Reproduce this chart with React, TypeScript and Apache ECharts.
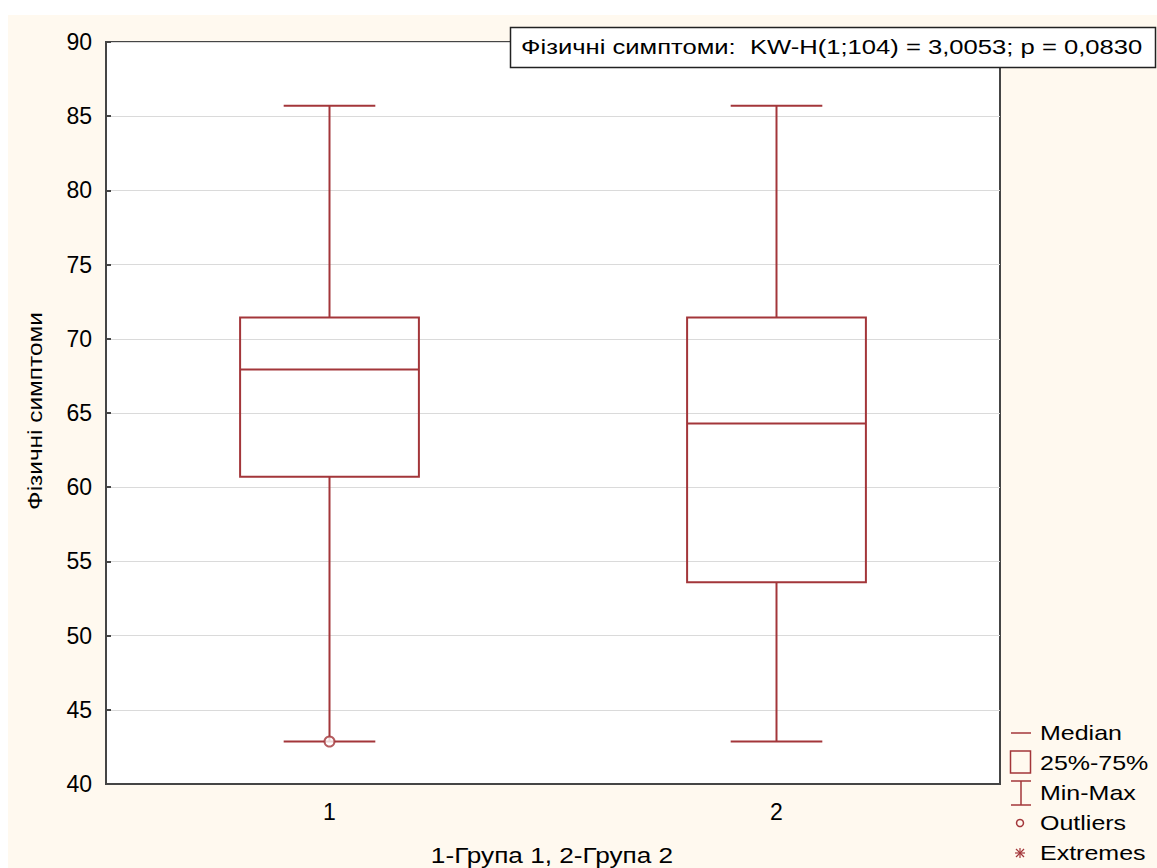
import { useEffect, useRef } from "react";
import * as echarts from "echarts";

const categories = ["1", "2"];
const minValues = [42.86, 42.86];
const q1Values = [60.71, 53.6];
const medianValues = [67.93, 64.29];
const q3Values = [71.43, 71.43];
const maxValues = [85.71, 85.71];
const outlierPoints: [number, number][] = [[0, 42.86]];
const yMin = 40;
const yMax = 90;
const yStep = 5;
const titleText = "Фізичні симптоми:  KW-H(1;104) = 3,0053; p = 0,0830";
const yAxisName = "Фізичні симптоми";
const xAxisName = "1-Група 1, 2-Група 2";
const legendLabels = ["Median", "25%-75%", "Min-Max", "Outliers", "Extremes"];

const RED = "#A3363A";
const FONT = "'Liberation Sans', Arial, sans-serif";

export default function App() {
  const ref = useRef<HTMLDivElement>(null);
  useEffect(() => {
    if (!ref.current) return;
    const chart = echarts.init(ref.current, undefined, { renderer: "svg" });
    const boxData = categories.map((_, i) => [
      i,
      minValues[i],
      q1Values[i],
      medianValues[i],
      q3Values[i],
      maxValues[i],
    ]);
    const lx = 1010;
    const tx = 1040;
    const ly = [733, 763, 793, 823, 853];
    const option: any = {
      animation: false,
      backgroundColor: "#ffffff",
      textStyle: { fontFamily: FONT },
      grid: {
        left: 106,
        top: 42,
        width: 894,
        height: 742,
        containLabel: false,
        outerBoundsMode: "none",
        show: true,
        backgroundColor: "#ffffff",
        borderColor: "#454545",
        borderWidth: 2,
      },
      xAxis: {
        type: "category",
        data: categories,
        boundaryGap: true,
        axisLine: { lineStyle: { color: "#454545", width: 2 } },
        axisTick: { inside: true, alignWithLabel: true, length: 5, lineStyle: { color: "#454545", width: 2 } },
        axisLabel: { color: "#000", fontSize: 23, margin: 16, fontFamily: FONT },
        splitLine: { show: false },
      },
      yAxis: {
        type: "value",
        min: yMin,
        max: yMax,
        interval: yStep,
        axisLine: { show: true, lineStyle: { color: "#454545", width: 2 } },
        axisTick: { show: true, inside: true, length: 5, lineStyle: { color: "#454545", width: 2 } },
        axisLabel: { color: "#000", fontSize: 23, margin: 14, fontFamily: FONT },
        splitLine: { show: true, lineStyle: { color: "#dadada", width: 1 } },
      },
      series: [
        {
          type: "custom",
          data: boxData,
          encode: { x: 0, y: [1, 2, 3, 4, 5] },
          renderItem: (params: any, api: any) => {
            const idx = api.value(0);
            const band = api.size([1, 0])[0];
            const pMin = api.coord([idx, api.value(1)]);
            const pQ1 = api.coord([idx, api.value(2)]);
            const pMed = api.coord([idx, api.value(3)]);
            const pQ3 = api.coord([idx, api.value(4)]);
            const pMax = api.coord([idx, api.value(5)]);
            const cx = pMed[0];
            const bw = band * 0.4;
            const cw = band * 0.205;
            const style = { stroke: RED, lineWidth: 2, fill: null };
            return {
              type: "group",
              children: [
                { type: "line", shape: { x1: cx, y1: pMax[1], x2: cx, y2: pQ3[1] }, style },
                { type: "line", shape: { x1: cx, y1: pQ1[1], x2: cx, y2: pMin[1] }, style },
                { type: "line", shape: { x1: cx - cw / 2, y1: pMax[1], x2: cx + cw / 2, y2: pMax[1] }, style },
                { type: "line", shape: { x1: cx - cw / 2, y1: pMin[1], x2: cx + cw / 2, y2: pMin[1] }, style },
                {
                  type: "rect",
                  shape: { x: cx - bw / 2, y: pQ3[1], width: bw, height: pQ1[1] - pQ3[1] },
                  style: { stroke: RED, lineWidth: 2, fill: "rgba(0,0,0,0)" },
                },
                { type: "line", shape: { x1: cx - bw / 2, y1: pMed[1], x2: cx + bw / 2, y2: pMed[1] }, style },
              ],
            };
          },
          z: 3,
        },
        {
          type: "scatter",
          data: outlierPoints,
          symbol: "emptyCircle",
          symbolSize: 10,
          itemStyle: { color: RED, borderColor: RED, borderWidth: 1.5 },
          z: 4,
        },
      ],
      graphic: [
        {
          type: "rect",
          z: -10,
          silent: true,
          shape: { x: 8, y: 15, width: 1157, height: 868 },
          style: { fill: "#FFF9EF" },
        },
        {
          type: "rect",
          z: 10,
          shape: { x: 510.5, y: 27.5, width: 645, height: 40 },
          style: { fill: "#ffffff", stroke: "#222", lineWidth: 1.5 },
        },
        {
          type: "text",
          z: 11,
          x: 521,
          y: 47,
          scaleX: 1.22,
          style: { text: titleText, fill: "#000", fontSize: 21, fontFamily: FONT, verticalAlign: "middle" },
        },
        {
          type: "text",
          z: 11,
          x: 35,
          y: 411,
          rotation: Math.PI / 2,
          scaleX: 1.22,
          style: { text: yAxisName, fill: "#000", fontSize: 20, fontFamily: FONT, align: "center", verticalAlign: "middle" },
        },
        {
          type: "text",
          z: 11,
          x: 552,
          y: 855,
          scaleX: 1.19,
          style: { text: xAxisName, fill: "#000", fontSize: 22, fontFamily: FONT, align: "center", verticalAlign: "middle" },
        },
        // legend icons
        { type: "line", z: 10, shape: { x1: lx + 1, y1: ly[0], x2: lx + 21, y2: ly[0] }, style: { stroke: RED, lineWidth: 1.5 } },
        { type: "rect", z: 10, shape: { x: lx + 0.5, y: ly[1] - 12, width: 20, height: 22 }, style: { stroke: RED, lineWidth: 1.5, fill: "none" } },
        { type: "line", z: 10, shape: { x1: lx + 1, y1: ly[2] - 12, x2: lx + 21, y2: ly[2] - 12 }, style: { stroke: RED, lineWidth: 1.5 } },
        { type: "line", z: 10, shape: { x1: lx + 11, y1: ly[2] - 12, x2: lx + 11, y2: ly[2] + 12 }, style: { stroke: RED, lineWidth: 1.5 } },
        { type: "line", z: 10, shape: { x1: lx + 1, y1: ly[2] + 12, x2: lx + 21, y2: ly[2] + 12 }, style: { stroke: RED, lineWidth: 1.5 } },
        { type: "circle", z: 10, shape: { cx: lx + 10, cy: ly[3], r: 3.5 }, style: { stroke: RED, lineWidth: 1.5, fill: "none" } },
        { type: "line", z: 10, shape: { x1: lx + 5, y1: ly[4], x2: lx + 15, y2: ly[4] }, style: { stroke: RED, lineWidth: 1.2 } },
        { type: "line", z: 10, shape: { x1: lx + 10, y1: ly[4] - 5, x2: lx + 10, y2: ly[4] + 5 }, style: { stroke: RED, lineWidth: 1.2 } },
        { type: "line", z: 10, shape: { x1: lx + 6, y1: ly[4] - 4, x2: lx + 14, y2: ly[4] + 4 }, style: { stroke: RED, lineWidth: 1.2 } },
        { type: "line", z: 10, shape: { x1: lx + 6, y1: ly[4] + 4, x2: lx + 14, y2: ly[4] - 4 }, style: { stroke: RED, lineWidth: 1.2 } },
        ...legendLabels.map((t, i) => ({
          type: "text",
          z: 10,
          x: tx,
          y: ly[i],
          scaleX: 1.19,
          style: { text: t, fill: "#000", fontSize: 21, fontFamily: FONT, verticalAlign: "middle" },
        })),
      ],
    };
    chart.setOption(option);
    return () => chart.dispose();
  }, []);
  return (
    <div
      ref={ref}
      style={{ position: "fixed", left: 0, top: 0, width: 1157, height: 868 }}
    />
  );
}
